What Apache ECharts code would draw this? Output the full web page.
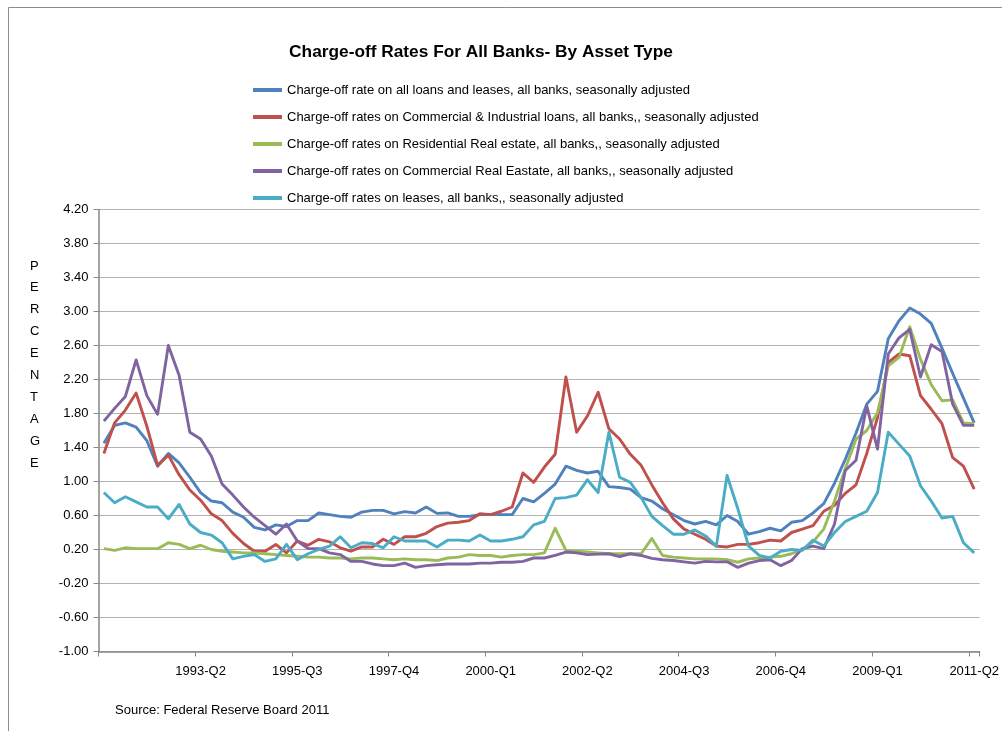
<!DOCTYPE html>
<html>
<head>
<meta charset="utf-8">
<script src="https://cdn.jsdelivr.net/npm/echarts@6/dist/echarts.min.js"></script>
<style>
html,body{margin:0;padding:0;background:#fff;}
#chart{width:1002px;height:731px;}
</style>
</head>
<body>
<div id="chart"></div>
<script>
const categories = [
'1991-Q1','1991-Q2','1991-Q3','1991-Q4','1992-Q1','1992-Q2','1992-Q3','1992-Q4',
'1993-Q1','1993-Q2','1993-Q3','1993-Q4','1994-Q1','1994-Q2','1994-Q3','1994-Q4',
'1995-Q1','1995-Q2','1995-Q3','1995-Q4','1996-Q1','1996-Q2','1996-Q3','1996-Q4',
'1997-Q1','1997-Q2','1997-Q3','1997-Q4','1998-Q1','1998-Q2','1998-Q3','1998-Q4',
'1999-Q1','1999-Q2','1999-Q3','1999-Q4','2000-Q1','2000-Q2','2000-Q3','2000-Q4',
'2001-Q1','2001-Q2','2001-Q3','2001-Q4','2002-Q1','2002-Q2','2002-Q3','2002-Q4',
'2003-Q1','2003-Q2','2003-Q3','2003-Q4','2004-Q1','2004-Q2','2004-Q3','2004-Q4',
'2005-Q1','2005-Q2','2005-Q3','2005-Q4','2006-Q1','2006-Q2','2006-Q3','2006-Q4',
'2007-Q1','2007-Q2','2007-Q3','2007-Q4','2008-Q1','2008-Q2','2008-Q3','2008-Q4',
'2009-Q1','2009-Q2','2009-Q3','2009-Q4','2010-Q1','2010-Q2','2010-Q3','2010-Q4',
'2011-Q1','2011-Q2'
];

const seriesNames = [
'Charge-off rate on all loans and leases, all banks, seasonally adjusted',
'Charge-off rates on Commercial & Industrial loans, all banks,, seasonally adjusted',
'Charge-off rates on Residential Real estate, all banks,, seasonally adjusted',
'Charge-off rates on Commercial Real Eastate, all banks,, seasonally adjusted',
'Charge-off rates on leases, all banks,, seasonally adjusted'
];

const allLoans = [
1.45,1.66,1.69,1.64,1.48,1.18,1.33,1.22,1.05,0.87,0.77,0.75,0.64,0.58,0.46,0.43,
0.49,0.47,0.54,0.54,0.63,0.61,0.59,0.58,0.64,0.66,0.66,0.62,0.645,0.63,0.70,0.625,
0.63,0.59,0.59,0.61,0.61,0.61,0.61,0.80,0.76,0.86,0.97,1.18,1.13,1.10,1.12,0.94,
0.93,0.91,0.81,0.77,0.68,0.61,0.54,0.50,0.53,0.49,0.60,0.53,0.38,0.41,0.45,0.42,
0.52,0.54,0.63,0.74,0.98,1.26,1.57,1.91,2.06,2.68,2.89,3.04,2.97,2.86,2.57,2.27,
1.98,1.69
];

const commercialIndustrial = [
1.33,1.69,1.84,2.04,1.65,1.19,1.31,1.08,0.90,0.78,0.62,0.54,0.39,0.27,0.18,0.18,
0.26,0.16,0.30,0.25,0.32,0.29,0.22,0.18,0.23,0.23,0.32,0.26,0.35,0.35,0.39,0.47,
0.51,0.52,0.54,0.62,0.61,0.65,0.70,1.10,0.99,1.17,1.32,2.23,1.58,1.77,2.05,1.62,
1.50,1.32,1.19,0.96,0.75,0.56,0.44,0.38,0.32,0.24,0.23,0.26,0.26,0.28,0.31,0.30,
0.40,0.44,0.48,0.65,0.72,0.86,0.96,1.33,1.75,2.40,2.50,2.48,2.01,1.85,1.68,1.28,
1.18,0.91
];

const residentialRE = [
0.21,0.19,0.22,0.21,0.21,0.21,0.28,0.26,0.21,0.25,0.20,0.18,0.17,0.16,0.16,0.15,
0.14,0.13,0.12,0.11,0.11,0.10,0.10,0.09,0.10,0.10,0.09,0.08,0.09,0.08,0.08,0.07,
0.10,0.11,0.14,0.13,0.13,0.11,0.13,0.14,0.14,0.16,0.45,0.19,0.18,0.17,0.16,0.15,
0.15,0.15,0.15,0.33,0.13,0.11,0.10,0.09,0.09,0.09,0.08,0.05,0.09,0.10,0.11,0.12,
0.15,0.20,0.29,0.44,0.77,1.15,1.50,1.60,1.81,2.36,2.46,2.82,2.44,2.14,1.95,1.96,
1.69,1.68
];

const commercialRE = [
1.71,1.86,2.00,2.43,2.01,1.79,2.60,2.25,1.58,1.50,1.30,0.97,0.84,0.70,0.58,0.48,
0.38,0.50,0.30,0.21,0.21,0.16,0.14,0.06,0.06,0.03,0.01,0.01,0.04,-0.01,0.01,0.02,
0.03,0.03,0.03,0.04,0.04,0.05,0.05,0.06,0.10,0.10,0.13,0.17,0.16,0.14,0.145,0.15,
0.115,0.15,0.13,0.095,0.08,0.07,0.055,0.04,0.06,0.055,0.055,-0.01,0.04,0.07,0.08,0.01,
0.07,0.21,0.24,0.21,0.50,1.13,1.25,1.89,1.38,2.50,2.69,2.79,2.23,2.61,2.53,1.91,
1.66,1.66
];

const leases = [
0.87,0.75,0.82,0.76,0.70,0.70,0.56,0.73,0.50,0.40,0.37,0.28,0.09,0.12,0.14,0.06,
0.09,0.26,0.08,0.15,0.20,0.24,0.35,0.22,0.28,0.27,0.22,0.35,0.30,0.30,0.30,0.23,
0.31,0.31,0.30,0.37,0.30,0.30,0.32,0.35,0.49,0.53,0.80,0.81,0.84,1.02,0.87,1.58,
1.05,0.99,0.81,0.59,0.48,0.38,0.38,0.43,0.36,0.24,1.07,0.68,0.24,0.13,0.10,0.18,
0.20,0.19,0.31,0.24,0.40,0.53,0.59,0.65,0.87,1.58,1.44,1.30,0.95,0.77,0.57,0.59,
0.28,0.16
];

const seriesData = [allLoans, commercialIndustrial, residentialRE, commercialRE, leases];
const colors = ['#4F81BD','#C0504D','#9BBB59','#8064A2','#4BACC6'];
const yTickLabels = ['-1.00','-0.60','-0.20','0.20','0.60','1.00','1.40','1.80','2.20','2.60','3.00','3.40','3.80','4.20'];
const yAxisTitle = 'PERCENTAGE';
const chartTitle = 'Charge-off Rates For All Banks- By Asset Type';
const sourceNote = 'Source: Federal Reserve Board 2011';

const FONT = '"Liberation Sans", Arial, sans-serif';

const chart = echarts.init(document.getElementById('chart'), null, {renderer: 'canvas'});

const option = {
  animation: false,
  backgroundColor: '#ffffff',
  color: colors,
  title: {
    text: chartTitle,
    left: 481,
    top: 44,
    padding: 0,
    textAlign: 'center',
    textStyle: {fontFamily: FONT, fontWeight: 'bold', fontSize: 17.3, color: '#000'}
  },
  legend: {
    orient: 'vertical',
    left: 253,
    top: 83,
    padding: 0,
    icon: 'rect',
    itemWidth: 29,
    itemHeight: 4,
    itemGap: 13,
    textStyle: {fontFamily: FONT, fontSize: 13, color: '#000', lineHeight: 14},
    data: seriesNames
  },
  grid: {left: 98.5, right: 20, top: 209.5, bottom: 79.5, containLabel: false},
  xAxis: {
    type: 'category',
    data: categories,
    boundaryGap: true,
    axisLine: {show: true, onZero: false, lineStyle: {color: '#868686', width: 1.5}},
    axisTick: {show: true, interval: 8, length: 5, lineStyle: {color: '#868686'}},
    axisLabel: {
      interval: function (index) { return index > 0 && index % 9 === 0; },
      margin: 13,
      fontFamily: FONT, fontSize: 13, color: '#000'
    },
    splitLine: {show: false}
  },
  yAxis: {
    type: 'value',
    min: -1,
    max: 4.2,
    interval: 0.4,
    axisLine: {show: true, lineStyle: {color: '#868686', width: 1.5}},
    axisTick: {show: true, length: 5, lineStyle: {color: '#868686'}},
    axisLabel: {
      margin: 10,
      fontFamily: FONT, fontSize: 13, color: '#000',
      formatter: function (v) { return v.toFixed(2); }
    },
    splitLine: {show: true, lineStyle: {color: '#b3b3b3', width: 1.2}}
  },
  graphic: [
    {
      type: 'rect',
      shape: {x: 8.5, y: 7.5, width: 1200, height: 900},
      style: {fill: 'none', stroke: '#8c8c8c', lineWidth: 1},
      silent: true
    },
    {
      type: 'text',
      left: 30,
      top: 255,
      style: {
        text: yAxisTitle.split('').join('\n'),
        fontFamily: FONT, fontSize: 13, lineHeight: 21.9, fill: '#000', align: 'center'
      }
    },
    {
      type: 'text',
      left: 115,
      top: 704,
      style: {text: sourceNote, fontFamily: FONT, fontSize: 13, fill: '#000'}
    }
  ],
  series: seriesNames.map(function (name, k) {
    return {
      name: name,
      type: 'line',
      data: seriesData[k],
      showSymbol: false,
      symbol: 'none',
      smooth: false,
      lineStyle: {width: 2.9, color: colors[k], join: 'round'},
      itemStyle: {color: colors[k]},
      z: 2
    };
  })
};

chart.setOption(option);
</script>
</body>
</html>
